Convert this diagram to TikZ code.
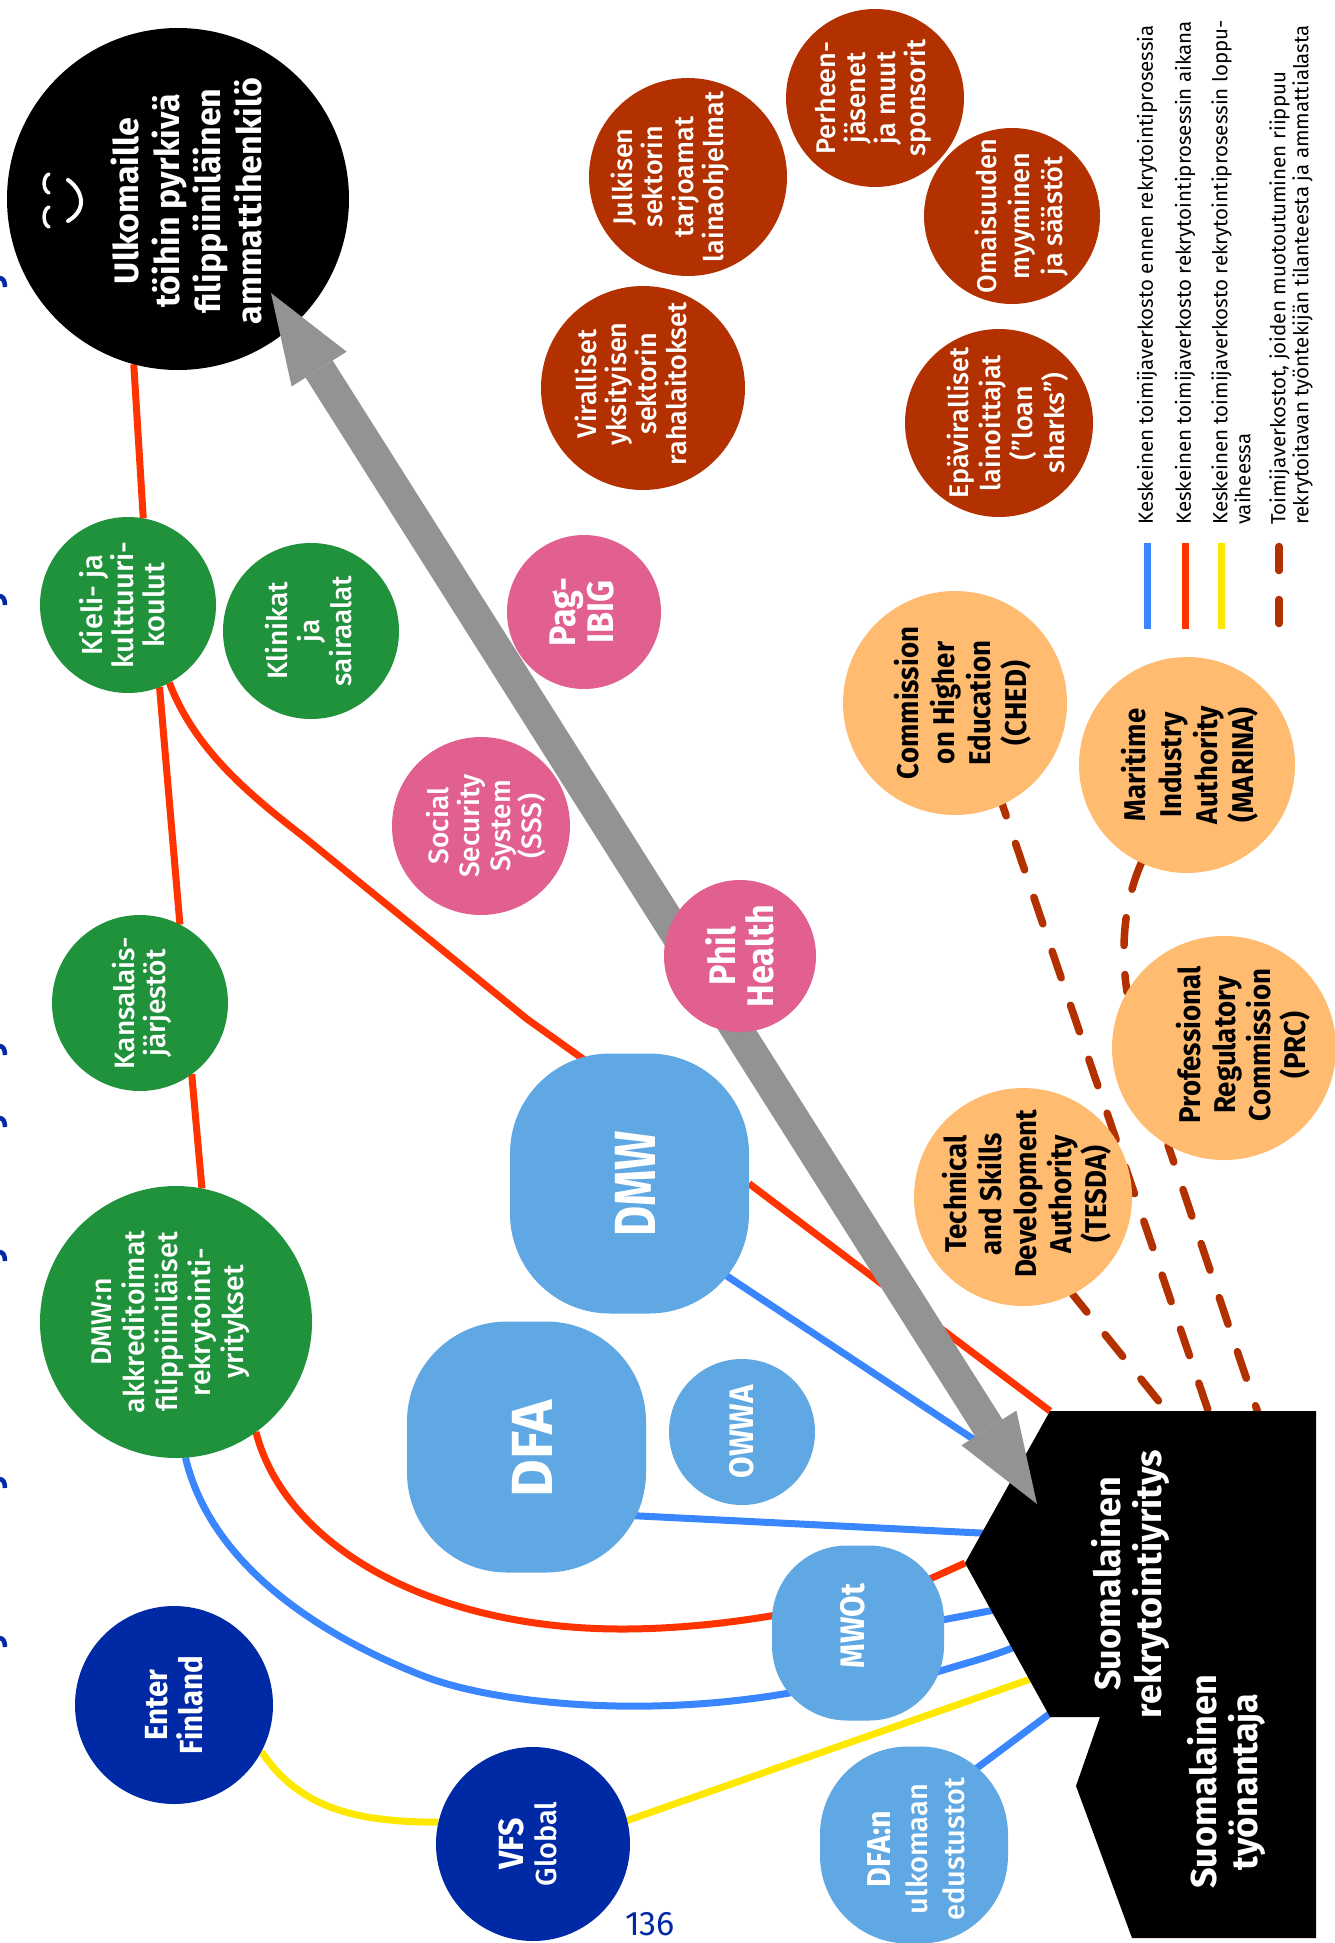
\documentclass[tikz,border=0pt]{standalone}
\usepackage{fontspec}
\usetikzlibrary{arrows.meta}
\setmainfont{Fira Sans}
\newfontfamily\fb[FakeStretch=0.92]{Fira Sans Bold}
\newfontfamily\fbn[FakeStretch=0.8]{Fira Sans Bold}
\newfontfamily\fbw{Fira Sans Bold}
\newfontfamily\fm{Fira Sans Medium}
\newfontfamily\fr{Fira Sans}
\definecolor{cGreen}{HTML}{1F923B}
\definecolor{cNavy}{HTML}{0029A5}
\definecolor{cSky}{HTML}{5FA8E3}
\definecolor{cPink}{HTML}{E26090}
\definecolor{cOrange}{HTML}{FFBB70}
\definecolor{cBrown}{HTML}{B33000}
\definecolor{cRed}{HTML}{FF3300}
\definecolor{cBlue}{HTML}{3A86FF}
\definecolor{cYellow}{HTML}{FFE800}
\definecolor{cGray}{HTML}{939393}
\pgfdeclarelayer{background}
\pgfsetlayers{background,main}
\tikzset{
  disc/.style={circle,inner sep=0pt,outer sep=0pt,draw=none},
  blob/.style={rectangle,inner sep=0pt,outer sep=0pt,draw=none,rounded corners=#1},
  tm/.style 2 args={rotate=90,align=center,text=white,inner sep=0pt,font=\fontsize{#1}{#2}\selectfont\fm},
  tb/.style 2 args={rotate=90,align=center,text=white,inner sep=0pt,font=\fontsize{#1}{#2}\selectfont\fb},
  tw/.style 2 args={rotate=90,align=center,text=white,inner sep=0pt,font=\fontsize{#1}{#2}\selectfont\fbw},
  tk/.style 2 args={rotate=90,align=center,text=black,inner sep=0pt,font=\fontsize{#1}{#2}\selectfont\fb},
  redl/.style={draw=cRed,line width=7pt},
  bluel/.style={draw=cBlue,line width=7pt},
  yell/.style={draw=cYellow,line width=7pt},
  dashl/.style={draw=cBrown,line width=7.5pt,line cap=round,dash pattern=on 28pt off 29pt},
  legt/.style={rotate=90,anchor=west,align=left,inner sep=0pt,text=black,font=\fontsize{20.5}{23}\selectfont\fr},
  bmark/.style={draw=cNavy,line width=4.5pt},
}
\begin{document}
\begin{tikzpicture}[x=1pt,y=-1pt]
\useasboundingbox (0,0) rectangle (1335,1943);
% nodes
\node[disc,minimum size=342pt,fill=black,label={[xshift=8pt,yshift=-2pt,tw={34}{41}]center:{Ulkomaille\\töihin pyrkivä\\filippiiniläinen\\ammattihenkilö}}] (ulk) at (178,199) {};
\node[disc,minimum size=176pt,fill=cGreen,label={[xshift=-6pt,yshift=0pt,tm={29}{31}]center:{Kieli- ja\\kulttuuri-\\koulut}}] (kieli) at (128,605) {};
\node[disc,minimum size=176pt,fill=cGreen,label={[xshift=-2pt,tm={28}{32}]center:{Klinikat\\ja\\sairaalat}}] (klin) at (311,631) {};
\node[disc,minimum size=176pt,fill=cGreen,label={[xshift=2pt,tm={28}{31}]center:{Kansalais-\\järjestöt}}] (kans) at (140,1003) {};
\node[disc,minimum size=272pt,fill=cGreen,label={[xshift=-5pt,tm={28.5}{33}]center:{DMW:n\\akkreditoimat\\filippiiniläiset\\rekrytointi-\\yritykset}}] (dmwn) at (176,1322) {};
\node[disc,minimum size=198pt,fill=cNavy,label={[tb={32}{35}]center:{Enter\\Finland}}] (enter) at (174,1705) {};
\node[disc,minimum size=194pt,fill=cNavy,label={[xshift=-5pt,tm={29}{33}]center:{{\fontsize{35}{35}\selectfont\fb VFS}\\Global}}] (vfs) at (533,1844) {};
\node[blob=88pt,minimum width=188pt,minimum height=197pt,fill=cSky,label={[xshift=2pt,yshift=-4pt,tm={29}{37}]center:{{\fontsize{33}{37}\selectfont\fb DFA:n}\\ulkomaan\\edustustot}}] (dfan) at (914,1845) {};
\node[blob=75pt,minimum width=172pt,minimum height=175pt,fill=cSky,label={[xshift=-5pt,yshift=7pt,tb={34}{34}]center:{MWOt}}] (mwot) at (858,1633) {};
\node[disc,minimum width=138pt,minimum height=146pt,fill=cSky,label={[tb={34}{34}]center:{OWWA}}] (owwa) at (742,1432) {};
\node[blob=100pt,minimum width=239pt,minimum height=251pt,fill=cSky,label={[xshift=6pt,yshift=-2pt,tw={58}{58}]center:{DFA}}] (dfa) at (526.5,1447) {};
\node[blob=100pt,minimum width=239pt,minimum height=260pt,fill=cSky,label={[xshift=6pt,rotate=90,text=white,inner sep=0pt,font=\fontsize{58}{58}\selectfont\fbn]center:{DMW}}] (dmw) at (629.5,1183.5) {};
\node[disc,minimum size=178pt,fill=cPink,label={[xshift=5pt,tm={28}{31}]center:{Social\\Security\\System\\(SSS)}}] (sss) at (481,826) {};
\node[disc,minimum size=154pt,fill=cPink,label={[xshift=-2pt,tb={37}{38}]center:{Pag-\\IBIG}}] (pag) at (584,612) {};
\node[disc,minimum size=224pt,fill=cOrange,label={[xshift=8pt,tk={30}{36}]center:{Commission\\on Higher\\Education\\(CHED)}}] (ched) at (955,703) {};
\node[disc,minimum size=216pt,fill=cOrange,label={[xshift=3pt,tk={30}{36}]center:{Maritime\\Industry\\Authority\\(MARINA)}}] (marina) at (1187,765) {};
\node[disc,minimum size=224pt,fill=cOrange,label={[xshift=19pt,yshift=3pt,tk={30}{35}]center:{Professional\\Regulatory\\Commission\\(PRC)}}] (prc) at (1224,1048) {};
\node[disc,minimum size=218pt,fill=cOrange,label={[xshift=4pt,yshift=3pt,tk={30}{35}]center:{Technical\\and Skills\\Development\\Authority\\(TESDA)}}] (tesda) at (1023,1197) {};
\node[disc,minimum size=204pt,fill=cBrown,label={[xshift=-12pt,yshift=4pt,tm={27}{30}]center:{Viralliset\\yksityisen\\sektorin\\rahalaitokset}}] (vir) at (643,388) {};
\node[disc,minimum size=198pt,fill=cBrown,label={[xshift=-18pt,tm={27}{30.5}]center:{Julkisen\\sektorin\\tarjoamat\\lainaohjelmat}}] (julk) at (688,177) {};
\node[disc,minimum size=178pt,fill=cBrown,label={[xshift=-2pt,tm={27}{30}]center:{Perheen-\\jäsenet\\ja muut\\sponsorit}}] (perh) at (875,98) {};
\node[disc,minimum size=176pt,fill=cBrown,label={[xshift=10pt,tm={27}{33}]center:{Omaisuuden\\myyminen\\ja säästöt}}] (omai) at (1012,216) {};
\node[disc,minimum size=188pt,fill=cBrown,label={[xshift=9pt,tm={27}{32}]center:{Epäviralliset\\lainoittajat\\(”loan\\sharks”)}}] (epa) at (999,423) {};
% black shapes
\coordinate (sNW) at (1050,1411);
\coordinate (sApex) at (965,1563);
\coordinate (sSW) at (1050,1717);
\fill[black] (sNW) -- (1316,1411) -- (1316,1938) -- (1132,1938) -- (1076,1786) -- (1100,1717) -- (sSW) -- (sApex) -- cycle;
\node[tw={36}{41}] (suo) at (1130,1584) {Suomalainen\\rekrytointiyritys};
\node[tw={36}{41}] (tyo) at (1226,1782) {Suomalainen\\työnantaja};
% face
\draw[white,line width=3.5pt,line cap=round] (49,174) .. controls (43,176) and (42,190) .. (49,193);
\draw[white,line width=3.5pt,line cap=round] (49,207) .. controls (43,209) and (42,224) .. (49,227);
\draw[white,line width=4pt,line cap=round] (68,180) .. controls (80,188) and (90,208) .. (68,221);
% grey double arrow
\coordinate (gA) at (271,293);
\coordinate (gB) at (1037,1504);
\draw[cGray,line width=32pt,{Triangle[length=90pt,width=65pt,line width=0pt]}-{Triangle[length=90pt,width=65pt,line width=0pt]}] (gA) -- (gB);
\node[disc,minimum size=152pt,fill=cPink,label={[tb={37}{38}]center:{Phil\\Health}}] (phil) at (740,956) {};
% page number
\node[inner sep=0pt,text=cNavy,font=\fontsize{34}{34}\selectfont\fr] (pg) at (650,1924) {136};
% legend
\coordinate (l1a) at (1147,543); \coordinate (l1b) at (1147,629);
\coordinate (l2a) at (1185,543); \coordinate (l2b) at (1185,629);
\coordinate (l3a) at (1221,543); \coordinate (l3b) at (1221,629);
\coordinate (l4a) at (1279,546.5); \coordinate (l4b) at (1279,624);
\draw[bluel] (l1a) -- (l1b);
\draw[redl] (l2a) -- (l2b);
\draw[yell] (l3a) -- (l3b);
\draw[dashl,dash pattern=on 24pt off 29pt] (l4a) -- (l4b);
\node[legt] (t1) at (1147,525) {Keskeinen toimijaverkosto ennen rekrytointiprosessia};
\node[legt] (t2) at (1185,525) {Keskeinen toimijaverkosto rekrytointiprosessin aikana};
\node[legt] (t3) at (1231,525) {Keskeinen toimijaverkosto rekrytointiprosessin loppu-\\vaiheessa};
\node[legt] (t4) at (1291,525) {Toimijaverkostot, joiden muotoutuminen riippuu\\rekrytoitavan työntekijän tilanteesta ja ammattialasta};
% binding marks
\foreach \my in {283,601,1051,1123,1257,1484,1643}
  \draw[bmark] (-1,\my-5) .. controls (3,\my-5) and (5,\my-2) .. (5,\my+4);
\begin{pgfonlayer}{background}
\fill[white] (0,0) rectangle (1335,1943);
% red
\draw[redl] (ulk.-105.5) -- (kieli.80);
\draw[redl] (kieli.-69.5) -- (kans.63);
\draw[redl] (kans.-54) -- (dmwn.79);
\draw[redl] (kieli.-62) .. controls (195,750) and (250,795) .. (304,837) -- (527,1019) -- ([xshift=-40pt,yshift=-10pt]dmw.north);
\draw[redl] (dmw.east) -- (sNW);
\draw[redl] (dmwn.-54) .. controls (285,1545) and (430,1629) .. (622,1629) .. controls (680,1629) and (760,1622) .. ([yshift=35pt]mwot.center);
\coordinate (mr) at (890,1597);
\draw[redl] (mr) -- (sApex);
% blue
\coordinate (bd0) at (680,1245); \coordinate (bd1) at (1020,1470);
\draw[bluel] (bd0) -- (bd1);
\coordinate (bf0) at (600,1514); \coordinate (bf1) at (1000,1534);
\draw[bluel] (bf0) -- (bf1);
\draw[bluel] (dmwn.-86) .. controls (212,1570) and (330,1640) .. (426,1677) .. controls (500,1705) and (680,1725) .. ([yshift=-45pt]mwot.center);
\coordinate (m1a) at (900,1628); \coordinate (m1b) at (1005,1608);
\draw[bluel] (m1a) -- (m1b);
\coordinate (m2a) at (900,1685); \coordinate (m2b) at (1030,1640);
\draw[bluel] (m2a) .. controls (950,1665) and (990,1660) .. (m2b);
\coordinate (d1) at (1060,1706); \coordinate (d0) at (930,1803);
\draw[bluel] (d0) -- (d1);
% yellow
\draw[yell] (enter.-28) .. controls (300,1810) and (360,1822) .. (vfs.167);
\coordinate (yb) at (1045,1674);
\draw[yell] (vfs.14) -- (yb);
% dashed
\coordinate (cb) at (1212,1422); \coordinate (tb) at (1178,1425); \coordinate (pb) at (1262,1425);
\draw[dashl,dash phase=16pt] (ched.-65) -- (cb);
\draw[dashl,dash phase=5pt] (tesda.-63) -- (tb);
\draw[dashl,dash phase=10pt] (prc.-120) -- (pb);
\draw[dashl] (marina.-115) .. controls (1125,900) and (1120,945) .. (prc.150);
\end{pgfonlayer}
\end{tikzpicture}
\end{document}
